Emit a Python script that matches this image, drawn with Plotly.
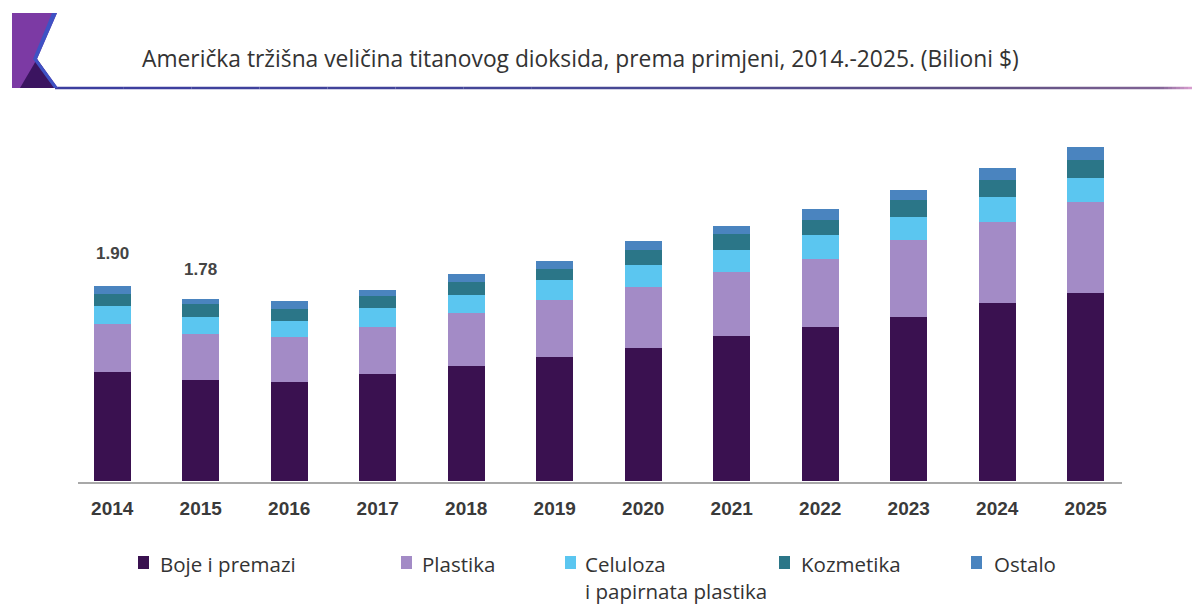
import plotly.graph_objects as go

years = ["2014", "2015", "2016", "2017", "2018", "2019", "2020", "2021", "2022", "2023", "2024", "2025"]
boje = [1.06, 0.99, 0.97, 1.04, 1.12, 1.21, 1.30, 1.41, 1.50, 1.60, 1.74, 1.83]
plastika = [0.47, 0.44, 0.43, 0.46, 0.52, 0.56, 0.59, 0.63, 0.67, 0.75, 0.79, 0.89]
celuloza = [0.18, 0.17, 0.16, 0.19, 0.17, 0.19, 0.22, 0.21, 0.23, 0.23, 0.24, 0.24]
kozmetika = [0.11, 0.13, 0.12, 0.11, 0.13, 0.11, 0.14, 0.16, 0.15, 0.16, 0.17, 0.17]
ostalo = [0.08, 0.05, 0.08, 0.06, 0.08, 0.08, 0.09, 0.08, 0.10, 0.10, 0.11, 0.13]
series_names = ["Boje i premazi", "Plastika", "Celuloza<br>i papirnata plastika", "Kozmetika", "Ostalo"]
colors = ["#3a1150", "#a38bc6", "#5bc6f0", "#2b7688", "#4a84bf"]
total_labels = {"2014": "1.90", "2015": "1.78"}
title_text = "Američka tržišna veličina titanovog dioksida, prema primjeni, 2014.-2025. (Bilioni $)"

series = [boje, plastika, celuloza, kozmetika, ostalo]

# plot area in pixels
L, R, T, B = 68, 1130, 130, 481
W, H = R - L, B - T
YMAX = 3.424


def px(x):
    return (x - L) / W


def py(y):
    return (B - y) / H


fig = go.Figure()
for name, vals, col in zip(series_names, series, colors):
    fig.add_trace(go.Bar(x=years, y=vals, name=name.replace("<br>", " "),
                         marker=dict(color=col, line=dict(width=0)),
                         width=0.42, showlegend=False))

shapes = []
annotations = []

# total labels above first bars
for yr, lab in total_labels.items():
    i = years.index(yr)
    tot = sum(s[i] for s in series)
    annotations.append(dict(x=i, y=tot, xref="x", yref="y", text="<b>" + lab + "</b>", showarrow=False,
                            yshift=21 if yr == "2014" else 18, yanchor="bottom",
                            font=dict(family="Liberation Sans, Arial", size=17, color="#444444")))

# x axis baseline
shapes.append(dict(type="line", xref="paper", yref="paper", x0=px(78), x1=px(1122), y0=py(483), y1=py(483),
                   line=dict(color="#a8a8a8", width=2)))

# header line with gradient
stops = [(55, (60, 62, 160)), (600, (70, 72, 150)), (1000, (95, 80, 130)), (1160, (130, 100, 150)), (1192, (220, 160, 210))]
for (xa, ca), (xb, cb) in zip(stops[:-1], stops[1:]):
    n = 8
    for k in range(n):
        x0 = xa + (xb - xa) * k / n
        x1 = xa + (xb - xa) * (k + 1) / n
        t = (k + 0.5) / n
        c = tuple(int(ca[j] + (cb[j] - ca[j]) * t) for j in range(3))
        shapes.append(dict(type="line", xref="paper", yref="paper", x0=px(x0), x1=px(x1), y0=py(88), y1=py(88),
                           line=dict(color="rgb(%d,%d,%d)" % c, width=2.5)))


# logo
def path(points):
    return "M " + " L ".join("%f,%f" % (px(a), py(b)) for a, b in points) + " Z"


shapes.append(dict(type="path", xref="paper", yref="paper",
                   path=path([(12, 13), (57, 13), (37, 59), (58, 88), (12, 88)]),
                   fillcolor="#7c3aa4", line=dict(width=0)))
shapes.append(dict(type="path", xref="paper", yref="paper",
                   path=path([(20, 88), (37, 59), (57, 88)]),
                   fillcolor="#3b1460", line=dict(width=0)))
shapes.append(dict(type="path", xref="paper", yref="paper",
                   path=path([(57, 13), (37, 59), (58, 88), (54, 88), (33, 59), (52, 13)]),
                   fillcolor="#3f52c4", line=dict(width=0)))

# title
annotations.append(dict(x=px(140), y=py(58), xref="paper", yref="paper", text=title_text, showarrow=False,
                        xanchor="left", yanchor="middle",
                        font=dict(family="Open Sans", size=22.8, color="#333333")))

# manual legend
mark_x = [143, 406, 570, 784, 976]
text_x = [158, 420, 583, 799, 992]
for name, col, mx, tx in zip(series_names, colors, mark_x, text_x):
    shapes.append(dict(type="rect", xref="paper", yref="paper", x0=px(mx - 5), x1=px(mx + 6),
                       y0=py(569), y1=py(556), fillcolor=col, line=dict(width=0)))
    annotations.append(dict(x=px(tx), y=py(548), xref="paper", yref="paper", text=name, showarrow=False,
                            xanchor="left", yanchor="top", align="left",
                            font=dict(family="Open Sans", size=20.5, color="#333333")))

fig.update_layout(
    barmode="stack",
    width=1192, height=604,
    margin=dict(l=L, r=1192 - R, t=T, b=604 - B),
    paper_bgcolor="white", plot_bgcolor="white",
    showlegend=False,
    xaxis=dict(type="category", range=[-0.5, 11.5], showgrid=False, showline=False, ticks="",
               tickfont=dict(family="Liberation Sans, Arial", size=19, color="#3a3a3a"),
               ticklabelstandoff=14, tickprefix="<b>", ticksuffix="</b>"),
    yaxis=dict(range=[0, YMAX], visible=False, showgrid=False),
    shapes=shapes,
    annotations=annotations,
)

fig.write_html("out.html")
